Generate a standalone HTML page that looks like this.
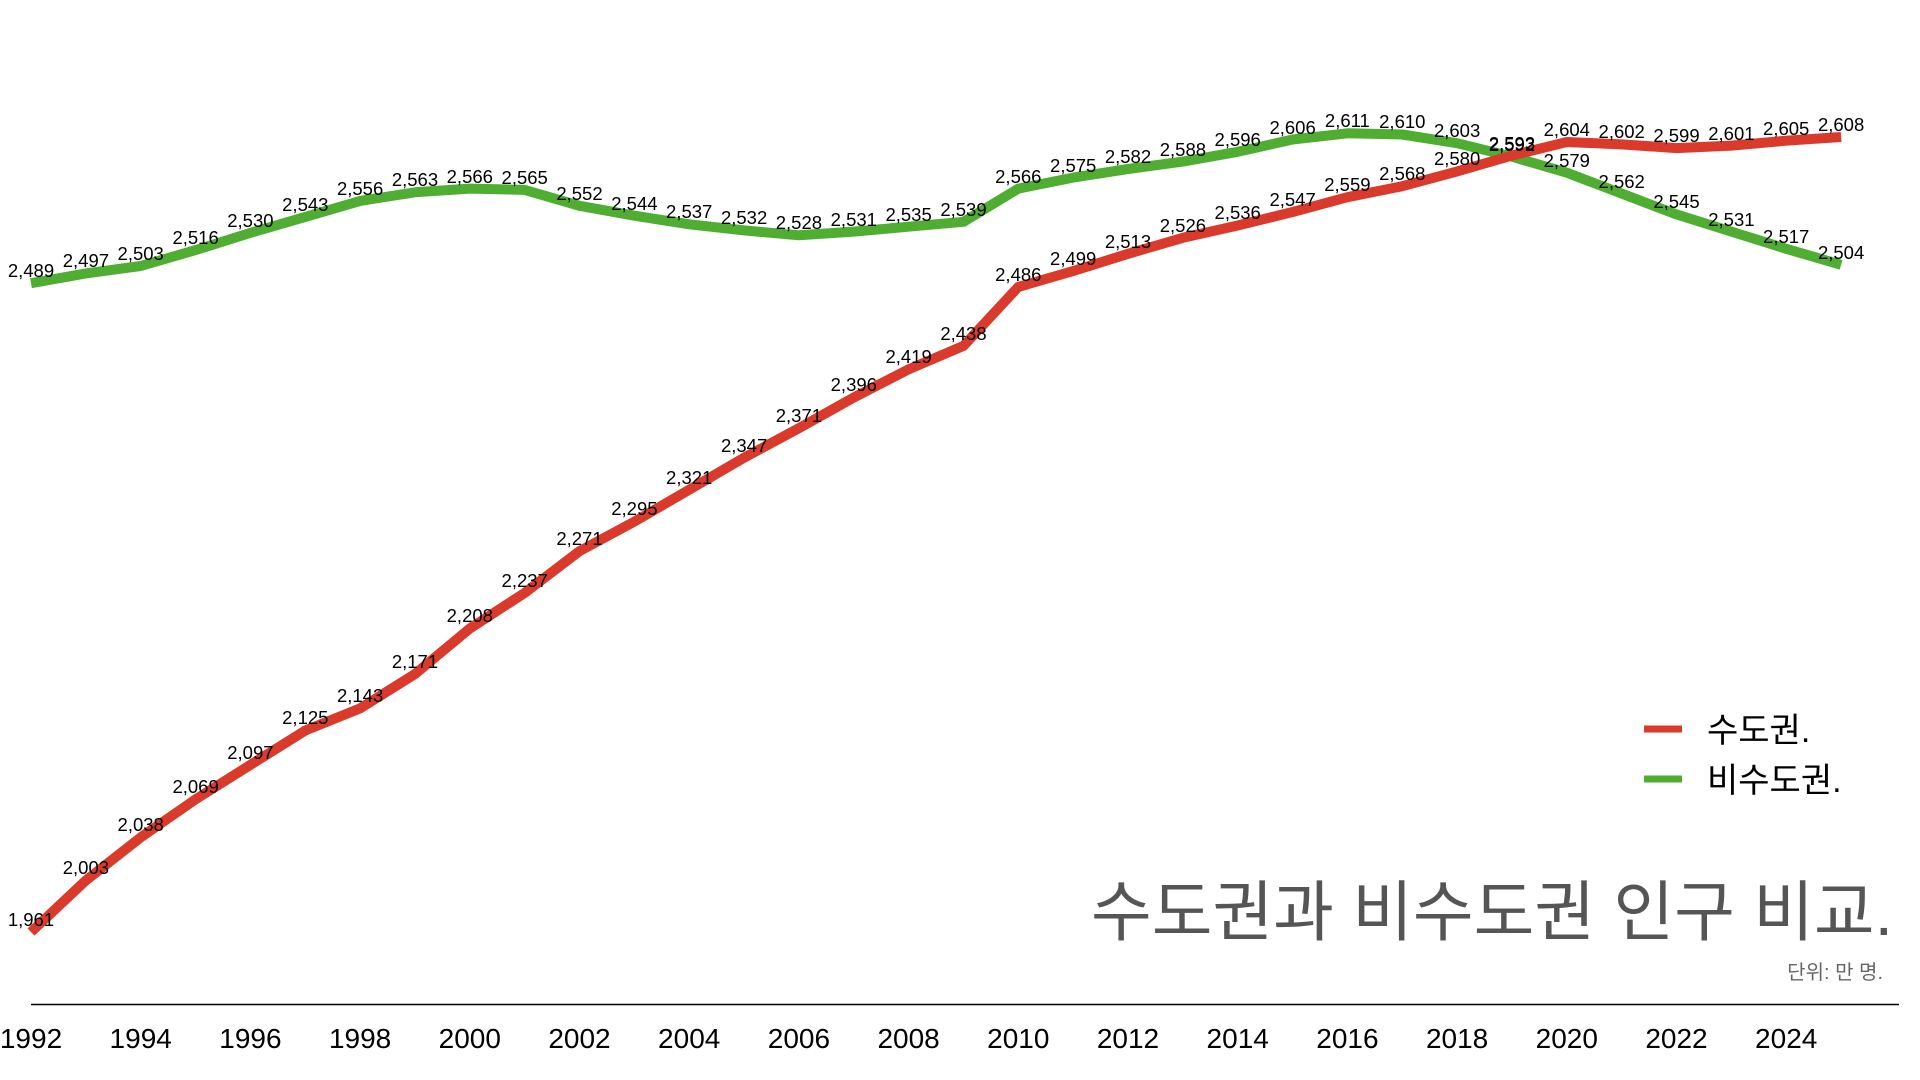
<!DOCTYPE html>
<html><head><meta charset="utf-8"><style>
html,body{margin:0;padding:0;background:#fff;}
svg{display:block;}
text{font-family:"Liberation Sans","Noto Sans CJK KR",sans-serif;}
.l{font-size:18.5px;fill:#000;text-anchor:middle;}
.yr{font-size:28px;fill:#000;text-anchor:middle;}
</style></head><body>
<svg width="1920" height="1080" viewBox="0 0 1920 1080" xmlns="http://www.w3.org/2000/svg">
<polyline fill="none" stroke="#4fad32" stroke-width="10" stroke-linejoin="round" points="31,283.2 85.9,273.4 140.7,266 195.6,250.1 250.4,232.9 305.3,216.9 360.1,200.9 415,192.3 469.8,188.6 524.7,189.9 579.5,205.8 634.4,215.7 689.2,224.3 744.1,230.4 798.9,235.3 853.8,231.6 908.6,226.7 963.5,221.8 1018.3,188.6 1073.2,177.6 1128,169 1182.9,161.6 1237.7,151.8 1292.6,139.5 1347.4,133.3 1402.3,134.5 1457.1,143.2 1512,156.7 1566.8,172.7 1621.7,193.6 1676.5,214.4 1731.4,231.6 1786.2,248.8 1841.1,264.8"/>
<polyline fill="none" stroke="#d93a2b" stroke-width="10" stroke-linejoin="round" points="31,932 85.9,880.4 140.7,837.4 195.6,799.3 250.4,764.9 305.3,730.5 360.1,708.4 415,674 469.8,628.5 524.7,592.9 579.5,551.1 634.4,521.6 689.2,489.7 744.1,457.7 798.9,428.2 853.8,397.5 908.6,369.3 963.5,345.9 1018.3,286.9 1073.2,271 1128,253.8 1182.9,237.8 1237.7,225.5 1292.6,212 1347.4,197.2 1402.3,186.2 1457.1,171.4 1512,155.5 1566.8,142 1621.7,144.4 1676.5,148.1 1731.4,145.6 1786.2,140.7 1841.1,137"/>
<g class="l">
<text x="31" y="277">2,489</text><text x="85.9" y="267">2,497</text><text x="140.7" y="260">2,503</text><text x="195.6" y="244">2,516</text><text x="250.4" y="227">2,530</text><text x="305.3" y="211">2,543</text><text x="360.1" y="195">2,556</text><text x="415" y="186">2,563</text><text x="469.8" y="183">2,566</text><text x="524.7" y="184">2,565</text><text x="579.5" y="200">2,552</text><text x="634.4" y="210">2,544</text><text x="689.2" y="218">2,537</text><text x="744.1" y="224">2,532</text><text x="798.9" y="229">2,528</text><text x="853.8" y="226">2,531</text><text x="908.6" y="221">2,535</text><text x="963.5" y="216">2,539</text><text x="1018.3" y="183">2,566</text><text x="1073.2" y="172">2,575</text><text x="1128" y="163">2,582</text><text x="1182.9" y="156">2,588</text><text x="1237.7" y="146">2,596</text><text x="1292.6" y="134">2,606</text><text x="1347.4" y="127">2,611</text><text x="1402.3" y="128">2,610</text><text x="1457.1" y="137">2,603</text><text x="1512" y="151">2,592</text><text x="1566.8" y="167">2,579</text><text x="1621.7" y="188">2,562</text><text x="1676.5" y="208">2,545</text><text x="1731.4" y="226">2,531</text><text x="1786.2" y="243">2,517</text><text x="1841.1" y="259">2,504</text>
<text x="31" y="926">1,961</text><text x="85.9" y="874">2,003</text><text x="140.7" y="831">2,038</text><text x="195.6" y="793">2,069</text><text x="250.4" y="759">2,097</text><text x="305.3" y="724">2,125</text><text x="360.1" y="702">2,143</text><text x="415" y="668">2,171</text><text x="469.8" y="622">2,208</text><text x="524.7" y="587">2,237</text><text x="579.5" y="545">2,271</text><text x="634.4" y="515">2,295</text><text x="689.2" y="484">2,321</text><text x="744.1" y="452">2,347</text><text x="798.9" y="422">2,371</text><text x="853.8" y="391">2,396</text><text x="908.6" y="363">2,419</text><text x="963.5" y="340">2,438</text><text x="1018.3" y="281">2,486</text><text x="1073.2" y="265">2,499</text><text x="1128" y="248">2,513</text><text x="1182.9" y="232">2,526</text><text x="1237.7" y="219">2,536</text><text x="1292.6" y="206">2,547</text><text x="1347.4" y="191">2,559</text><text x="1402.3" y="180">2,568</text><text x="1457.1" y="165">2,580</text><text x="1512" y="150">2,593</text><text x="1566.8" y="136">2,604</text><text x="1621.7" y="138">2,602</text><text x="1676.5" y="142">2,599</text><text x="1731.4" y="140">2,601</text><text x="1786.2" y="135">2,605</text><text x="1841.1" y="131">2,608</text>
</g>
<line x1="1644" y1="729" x2="1682" y2="729" stroke="#d93a2b" stroke-width="7"/>
<line x1="1644" y1="779" x2="1682" y2="779" stroke="#4fad32" stroke-width="7"/>
<text x="1707" y="742" font-size="34" fill="#000">수도권.</text>
<text x="1707" y="792" font-size="34" fill="#000">비수도권.</text>
<text x="1893" y="935" font-size="66" fill="#555" text-anchor="end">수도권과 비수도권 인구 비교.</text>
<text x="1883" y="979" font-size="20" fill="#666" text-anchor="end">단위: 만 명.</text>
<line x1="31" y1="1004.5" x2="1899" y2="1004.5" stroke="#000" stroke-width="1.5"/>
<g class="yr">
<text x="31" y="1048">1992</text><text x="140.7" y="1048">1994</text><text x="250.4" y="1048">1996</text><text x="360.1" y="1048">1998</text><text x="469.8" y="1048">2000</text><text x="579.5" y="1048">2002</text><text x="689.2" y="1048">2004</text><text x="798.9" y="1048">2006</text><text x="908.6" y="1048">2008</text><text x="1018.3" y="1048">2010</text><text x="1128" y="1048">2012</text><text x="1237.7" y="1048">2014</text><text x="1347.4" y="1048">2016</text><text x="1457.1" y="1048">2018</text><text x="1566.8" y="1048">2020</text><text x="1676.5" y="1048">2022</text><text x="1786.2" y="1048">2024</text>
</g>
</svg>
</body></html>
